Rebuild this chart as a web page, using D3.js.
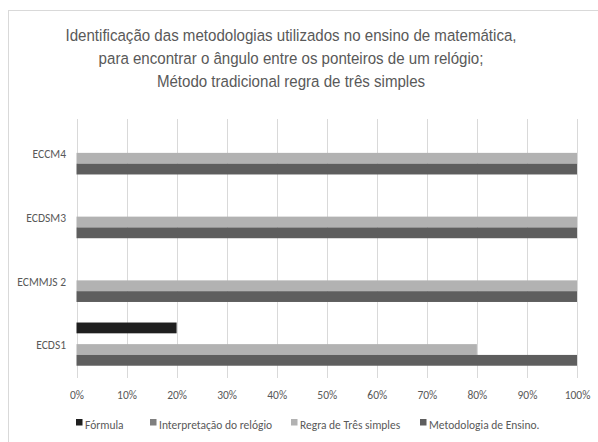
<!DOCTYPE html>
<html>
<head>
<meta charset="utf-8">
<script src="https://cdn.jsdelivr.net/npm/d3@7"></script>
<style>
  html, body { margin: 0; padding: 0; background: #fff; }
  svg { display: block; }
</style>
</head>
<body>
<script>
// ---- data ----
const categories = ["ECCM4", "ECDSM3", "ECMMJS 2", "ECDS1"]; // top to bottom
const seriesNames = ["Fórmula", "Interpretação do relógio", "Regra de Três simples", "Metodologia de Ensino."];
const formula      = [0, 0, 0, 0.2];
const interpretacao = [0, 0, 0, 0];
const regra        = [1, 1, 1, 0.8];
const metodologia  = [1, 1, 1, 1];
const tickValues = [0, 0.1, 0.2, 0.3, 0.4, 0.5, 0.6, 0.7, 0.8, 0.9, 1.0];
const titleLines = [
  "Identificação das metodologias utilizados no ensino de matemática,",
  "para encontrar o ângulo entre os ponteiros de um relógio;",
  "Método tradicional regra de três simples"
];
const colors = ["#1f1f1f", "#7f7f7f", "#b2b2b2", "#5e5e5e"];

const seriesValues = [formula, interpretacao, regra, metodologia];

const W = 598, H = 442;
const svg = d3.select("body").append("svg").attr("width", W).attr("height", H);

// chart border
svg.append("rect").attr("x", 8.5).attr("y", 10.5).attr("width", 600).attr("height", 440)
  .attr("fill", "#fff").attr("stroke", "#d9d9d9").attr("stroke-width", 1);

// title
const title = svg.append("text")
  .attr("transform", "translate(291,0) scale(0.915,1)")
  .attr("font-family", "'Liberation Sans', Arial, sans-serif")
  .attr("font-size", 16.5).attr("fill", "#595959").attr("text-anchor", "middle");
titleLines.forEach((t, i) => {
  title.append("tspan").attr("x", 0).attr("y", 41.5 + i * 23).text(t);
});

const x = d3.scaleLinear().domain([0, 1]).range([76.5, 577]);
const y = d3.scaleBand().domain(categories).range([121, 376]);
const sub = d3.scaleBand().domain(d3.range(seriesNames.length)).range([-21.6, 21.6]);

const plotTop = 119, plotBottom = 378;

// gridlines
svg.append("g").selectAll("line").data(tickValues).join("line")
  .attr("x1", d => Math.round(x(d)) + 0.5).attr("x2", d => Math.round(x(d)) + 0.5)
  .attr("y1", plotTop).attr("y2", plotBottom)
  .attr("stroke", "#d9d9d9").attr("stroke-width", 1);

// bars
const groups = svg.append("g").selectAll("g").data(seriesValues).join("g")
  .attr("fill", (d, i) => colors[i]);
groups.each(function(vals, si) {
  d3.select(this).selectAll("rect").data(vals.map((v, ci) => ({v, c: categories[ci]})))
    .join("rect")
    .attr("x", x(0))
    .attr("y", d => y(d.c) + y.bandwidth() / 2 + sub(si))
    .attr("width", d => x(d.v) - x(0))
    .attr("height", sub.bandwidth());
});

// x axis labels
const labelFont = "Carlito, Lato, 'Open Sans', sans-serif";
const xAxis = d3.axisBottom(x).tickValues(tickValues).tickFormat(d3.format(".0%")).tickSize(0).tickPadding(0);
const gx = svg.append("g").attr("transform", "translate(0,391)").call(xAxis);
gx.select(".domain").remove();
gx.selectAll("text").attr("font-family", labelFont).attr("font-size", 11.5).attr("fill", "#595959");

// y axis labels
const yAxis = d3.axisLeft(y).tickSize(0).tickPadding(0);
const gy = svg.append("g").attr("transform", "translate(66,1.5)").call(yAxis);
gy.select(".domain").remove();
gy.selectAll("text").attr("font-family", labelFont).attr("font-size", 11.5).attr("fill", "#595959");

// legend
const legendX = [76, 150, 291, 420];
const lg = svg.append("g").selectAll("g").data(seriesNames).join("g")
  .attr("transform", (d, i) => `translate(${legendX[i]},419)`);
lg.append("rect").attr("width", 6.5).attr("height", 6.5).attr("fill", (d, i) => colors[i]);
lg.append("text").attr("x", 9).attr("y", 10)
  .attr("font-family", labelFont).attr("font-size", 11.5).attr("fill", "#595959")
  .text(d => d);
</script>
</body>
</html>
